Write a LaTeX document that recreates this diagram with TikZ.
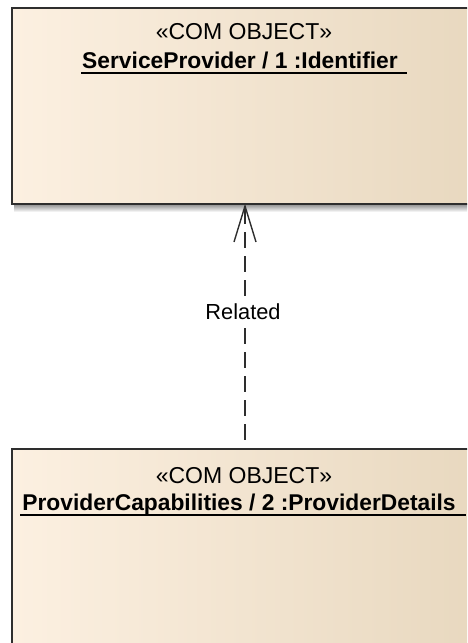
\documentclass[tikz,border=0pt]{standalone}
\usepackage{fontspec}
\setmainfont{Liberation Sans}
\definecolor{boxleft}{HTML}{FCF0E1}
\definecolor{boxright}{HTML}{E8D8BF}
\definecolor{edge}{HTML}{2E2E2E}
\tikzset{
  objbox/.style={draw=edge, line width=2pt, left color=boxleft, right color=boxright,
    minimum width=466pt, inner sep=0pt, anchor=north west},
  stereo/.style={inner sep=0pt, anchor=base, font=\fontsize{23}{27}\selectfont},
  objname/.style={inner sep=0pt, anchor=base, font=\fontsize{22.8}{27}\selectfont\bfseries},
  uline/.style={line width=1.8pt, black},
  depline/.style={draw=edge, line width=1.7pt, dash pattern=on 15.5pt off 8.5pt, dash phase=15.5pt},
  openhead/.style={draw=edge, line width=1.4pt},
  lbl/.style={fill=white, inner sep=2pt, anchor=base, font=\fontsize{21.8}{26}\selectfont}
}
\begin{document}
\begin{tikzpicture}[x=1pt, y=-1pt]
  \useasboundingbox (0,0) rectangle (467,643);
  \clip (0,0) rectangle (467,643);
  % soft shadow under the upper object
  \shade[top color=black!45, bottom color=white] (14,204) rectangle (480,212);
  % objects
  \node[objbox, minimum height=196pt] (sp) at (11,7) {};
  \node[objbox, minimum height=220pt] (pc) at (11,448) {};
  % upper object texts
  \node[stereo] (spst) at (244,39) {«COM OBJECT»};
  \node[objname] (spnm) at (240,68) {ServiceProvider / 1 :Identifier};
  \draw[uline] ([xshift=-1pt,yshift=-5pt]spnm.base west) -- ([xshift=9pt,yshift=-5pt]spnm.base east);
  % lower object texts
  \node[stereo] (pcst) at (244,483) {«COM OBJECT»};
  \node[objname] (pcnm) at (239,510) {ProviderCapabilities / 2 :ProviderDetails};
  \draw[uline] ([xshift=-2pt,yshift=-5pt]pcnm.base west) -- ([xshift=10pt,yshift=-5pt]pcnm.base east);
  % dependency
  \draw[depline] (pc.north) -- (sp.south);
  \draw[openhead] ([xshift=-11pt,yshift=-37pt]sp.south) -- ([yshift=-1pt]sp.south) -- ([xshift=11pt,yshift=-37pt]sp.south);
  \node[lbl] (rel) at (243,319) {Related};
\end{tikzpicture}
\end{document}
